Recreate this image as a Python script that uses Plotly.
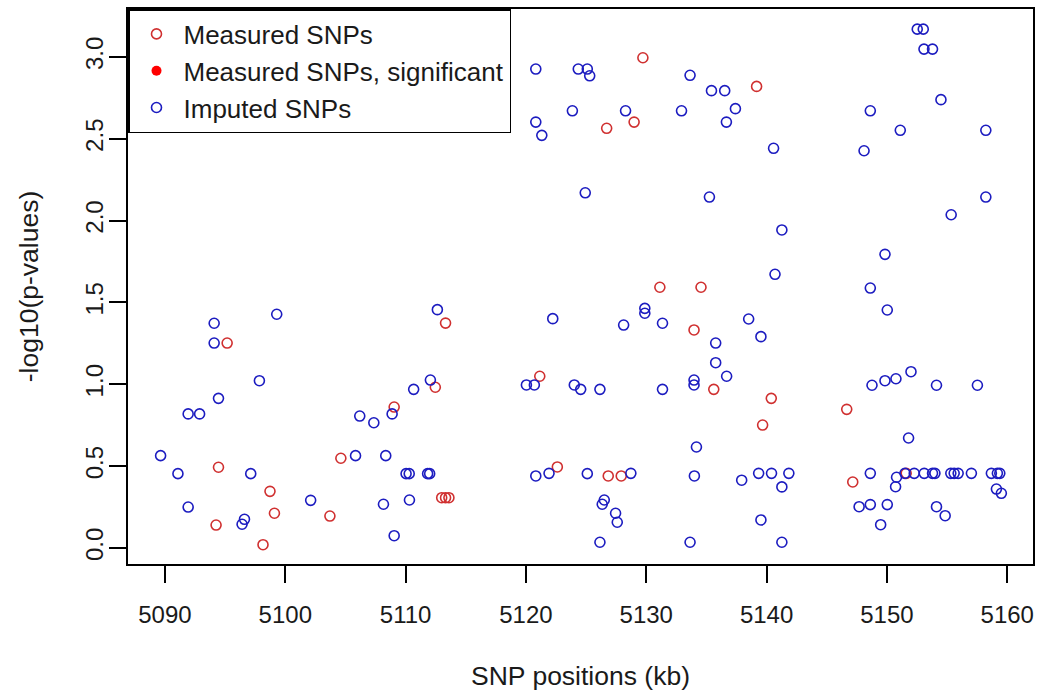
import plotly.graph_objects as go

# Measured SNPs (red open circles)
measured_x = [5095.17, 5094.45, 5098.73, 5099.10, 5103.71, 5094.25, 5098.15, 5104.62,
              5113.32, 5112.47, 5109.05, 5113.0, 5113.32, 5113.6, 5121.15, 5122.61,
              5126.84, 5127.92, 5129.72, 5126.71, 5128.99, 5131.13, 5134.55, 5133.97,
              5135.61, 5139.17, 5140.39, 5139.67, 5146.66, 5147.16, 5151.6]
measured_y = [1.252, 0.493, 0.346, 0.212, 0.195, 0.140, 0.020, 0.548,
              1.374, 0.982, 0.861, 0.307, 0.307, 0.307, 1.049, 0.495,
              0.440, 0.440, 2.995, 2.564, 2.602, 1.593, 1.593, 1.332,
              0.969, 2.820, 0.914, 0.751, 0.847, 0.403, 0.456]

# Measured SNPs, significant (none in view)
significant_x = [None]
significant_y = [None]

# Imputed SNPs (blue open circles)
imputed_x = [5089.64, 5091.08, 5091.93, 5091.93, 5092.88, 5094.09, 5094.09, 5094.45, 5096.41,
             5096.61, 5097.13, 5097.85, 5099.29, 5102.11, 5105.84, 5106.19, 5107.36, 5108.88,
             5108.35, 5108.16, 5109.05, 5110.04, 5110.3, 5110.32, 5110.67, 5111.83, 5112.0,
             5112.06, 5112.64,
             5120.04, 5120.70, 5120.82, 5121.92, 5122.23, 5124.02, 5124.55, 5125.10, 5126.15,
             5126.34, 5126.51, 5126.15, 5127.45, 5127.59, 5128.12, 5128.72, 5129.88, 5129.88,
             5131.35, 5131.35, 5133.64, 5133.97, 5133.97, 5134.00, 5134.17, 5135.77, 5135.77,
             5136.68, 5137.93, 5138.51, 5139.34, 5139.53, 5139.53, 5140.41, 5141.27, 5141.27,
             5141.85,
             5120.82, 5120.82, 5121.32, 5123.86, 5124.35, 5125.10, 5125.30, 5124.93, 5128.28,
             5132.93, 5133.64, 5135.25, 5135.42, 5136.52, 5136.66, 5137.41, 5140.58, 5141.27,
             5140.70,
             5152.52, 5153.02, 5153.08, 5153.79, 5154.49, 5148.62, 5151.11, 5158.22, 5148.10,
             5158.22, 5155.34, 5149.84, 5148.62, 5150.03, 5152.0, 5148.76, 5149.84, 5150.75,
             5154.12, 5157.52, 5151.80, 5148.62, 5150.80, 5150.72,
             5151.50, 5152.27, 5153.10, 5153.79, 5153.99, 5155.31, 5155.59, 5155.92, 5157.02,
             5158.68, 5159.18, 5159.38,
             5159.10, 5159.51, 5147.69, 5148.62, 5150.03, 5154.12, 5154.84, 5149.48]
imputed_y = [0.564, 0.454, 0.250, 0.819, 0.819, 1.373, 1.252, 0.914, 0.145,
             0.175, 0.454, 1.022, 1.428, 0.291, 0.564, 0.806, 0.765, 0.819,
             0.564, 0.267, 0.075, 0.454, 0.454, 0.293, 0.969, 0.454, 0.454,
             1.026, 1.456,
             0.996, 0.996, 0.440, 0.456, 1.401, 0.996, 0.969, 0.454, 0.969,
             0.267, 0.293, 0.035, 0.212, 0.157, 1.362, 0.456, 1.464, 1.434,
             1.373, 0.969, 0.035, 1.026, 0.996, 0.440, 0.617, 1.252, 1.132,
             1.049, 0.414, 1.399, 0.456, 1.291, 0.171, 0.456, 0.373, 0.035,
             0.456,
             2.926, 2.602, 2.521, 2.671, 2.926, 2.926, 2.885, 2.170, 2.671,
             2.671, 2.888, 2.144, 2.794, 2.794, 2.602, 2.684, 2.442, 1.943,
             1.672,
             3.170, 3.170, 3.048, 3.048, 2.739, 2.671, 2.552, 2.552, 2.427,
             2.144, 2.036, 1.794, 1.588, 1.454, 1.077, 0.994, 1.022, 1.034,
             0.994, 0.994, 0.672, 0.456, 0.432, 0.374,
             0.456, 0.456, 0.456, 0.456, 0.456, 0.456, 0.456, 0.456, 0.456,
             0.456, 0.456, 0.456,
             0.360, 0.334, 0.252, 0.265, 0.265, 0.252, 0.197, 0.142]

x_ticks = [5090, 5100, 5110, 5120, 5130, 5140, 5150, 5160]
y_ticks = [0.0, 0.5, 1.0, 1.5, 2.0, 2.5, 3.0]

RED = "#d03030"
BLUE = "#1c1cc0"
FONT = "Liberation Sans, Arial, sans-serif"

fig = go.Figure()
fig.add_trace(go.Scatter(
    x=measured_x, y=measured_y, mode="markers", name="Measured SNPs",
    marker=dict(symbol="circle-open", size=10, color=RED, line=dict(width=1.6, color=RED))))
fig.add_trace(go.Scatter(
    x=significant_x, y=significant_y, mode="markers", name="Measured SNPs, significant",
    marker=dict(symbol="circle", size=10, color="#ff0000")))
fig.add_trace(go.Scatter(
    x=imputed_x, y=imputed_y, mode="markers", name="Imputed SNPs",
    marker=dict(symbol="circle-open", size=10, color=BLUE, line=dict(width=1.6, color=BLUE))))

fig.update_layout(
    width=1041, height=698,
    margin=dict(l=128, r=6, t=9, b=134),
    paper_bgcolor="white", plot_bgcolor="white",
    font=dict(family=FONT, size=24, color="#1a1a1a"),
    showlegend=True,
    legend=dict(x=0, y=1, xanchor="left", yanchor="top",
                bgcolor="white", bordercolor="black", borderwidth=1.5,
                font=dict(size=26, family=FONT, color="#1a1a1a"),
                itemwidth=44, tracegroupgap=0),
    xaxis=dict(range=[5086.93, 5162.14], tickmode="array", tickvals=x_ticks,
               ticktext=[str(v) for v in x_ticks],
               showgrid=False, zeroline=False, showline=True, mirror=True,
               linecolor="black", linewidth=1.5, ticks="outside", ticklen=17,
               tickwidth=1.5, tickcolor="black", ticklabelstandoff=11,
               tickfont=dict(size=24, family=FONT),
               title=dict(text="SNP positions (kb)", standoff=40,
                          font=dict(size=26.5, family=FONT))),
    yaxis=dict(range=[-0.098, 3.293], tickmode="array", tickvals=y_ticks,
               ticktext=[f"{v:.1f}" for v in y_ticks], tickangle=-90,
               showgrid=False, zeroline=False, showline=True, mirror=True,
               linecolor="black", linewidth=1.5, ticks="outside", ticklen=17,
               tickwidth=1.5, tickcolor="black", ticklabelstandoff=-3,
               tickfont=dict(size=24, family=FONT),
               title=dict(text="-log10(p-values)", standoff=34,
                          font=dict(size=26.5, family=FONT))),
)

fig.write_html("out.html")
